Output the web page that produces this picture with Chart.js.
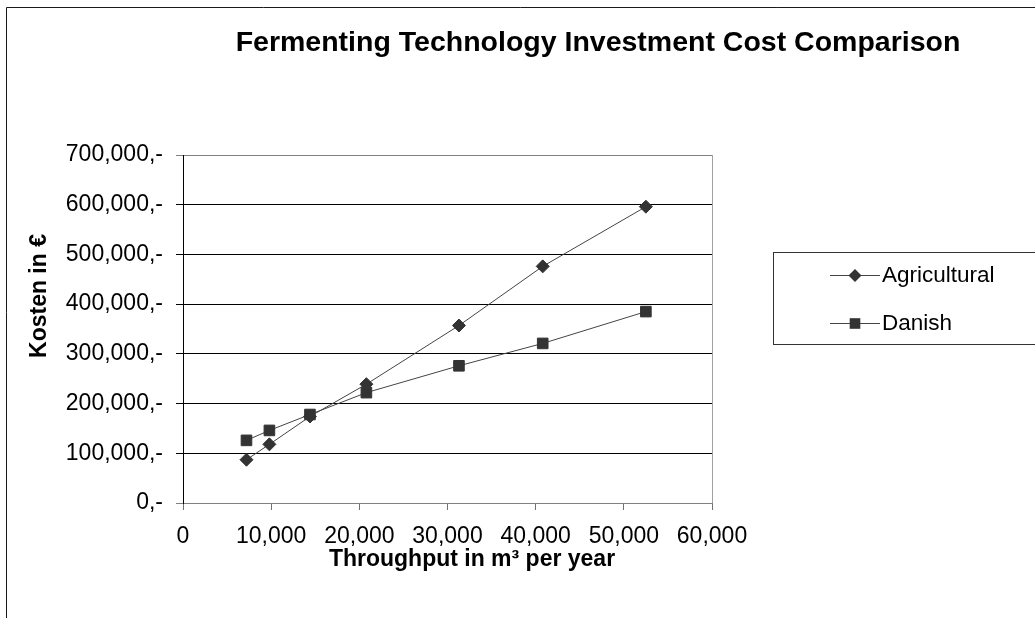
<!DOCTYPE html>
<html>
<head>
<meta charset="utf-8">
<title>Fermenting Technology Investment Cost Comparison</title>
<script src="https://cdn.jsdelivr.net/npm/chart.js@4.4.1/dist/chart.umd.min.js"></script>
<style>
  html, body { margin: 0; padding: 0; background: #fff; }
  #chart { display: block; }
</style>
</head>
<body>
<canvas id="chart" width="1035" height="618"></canvas>
<script>
const FONT = "'Liberation Sans', Arial, sans-serif";

// data
const throughput = [7200, 9800, 14400, 20800, 31300, 40800, 52500];
const agricultural = [87000, 118000, 174000, 239000, 357000, 476000, 596000];
const danish = [126000, 146000, 178000, 222000, 276000, 321000, 385000];
const seriesNames = ['Agricultural', 'Danish'];
const titleText = 'Fermenting Technology Investment Cost Comparison';
const xTitle = 'Throughput in m³ per year';
const yTitle = 'Kosten in €';

function toPoints(xs, ys) {
  return xs.map((x, i) => ({ x: x, y: ys[i] }));
}

// frame, titles, plot border and legend box
const decorations = {
  id: 'decorations',
  afterDraw(chart) {
    const ctx = chart.ctx;
    const area = chart.chartArea;
    ctx.save();

    // outer frame (left + top)
    ctx.strokeStyle = '#1a1a1a';
    ctx.lineWidth = 1;
    ctx.beginPath();
    ctx.moveTo(6.5, chart.height);
    ctx.lineTo(6.5, 7.5);
    ctx.lineTo(chart.width, 7.5);
    ctx.stroke();

    // plot area right edge
    ctx.strokeStyle = '#a0a0a0';
    ctx.beginPath();
    ctx.moveTo(Math.round(area.right) + 0.5, area.top);
    ctx.lineTo(Math.round(area.right) + 0.5, area.bottom);
    ctx.stroke();

    // chart title
    ctx.fillStyle = '#000';
    ctx.font = 'bold 28.5px ' + FONT;
    ctx.textAlign = 'center';
    ctx.textBaseline = 'middle';
    ctx.fillText(titleText, 598, 43);

    // axis titles
    ctx.font = 'bold 23px ' + FONT;
    ctx.fillText(xTitle, 472, 560);
    ctx.save();
    ctx.translate(40, 296);
    ctx.rotate(-Math.PI / 2);
    ctx.fillText(yTitle, 0, 0);
    ctx.restore();

    // legend
    ctx.strokeStyle = '#333';
    ctx.strokeRect(773.5, 252.5, 300, 92);
    const rows = [275, 323];
    chart.data.datasets.forEach((ds, i) => {
      const y = rows[i];
      ctx.strokeStyle = ds.borderColor;
      ctx.lineWidth = 1;
      ctx.beginPath();
      ctx.moveTo(830, y + 0.5);
      ctx.lineTo(880, y + 0.5);
      ctx.stroke();
      ctx.fillStyle = ds.pointBackgroundColor;
      Chart.helpers.drawPoint(ctx, {
        pointStyle: ds.pointStyle,
        radius: ds.pointRadius,
        borderWidth: 0
      }, 855, y + 0.5);
      ctx.fillStyle = '#000';
      ctx.font = '22.5px ' + FONT;
      ctx.textAlign = 'left';
      ctx.textBaseline = 'middle';
      ctx.fillText(ds.label, 882, y + 1);
    });

    ctx.restore();
  }
};

new Chart(document.getElementById('chart'), {
  type: 'scatter',
  data: {
    datasets: [
      {
        label: seriesNames[0],
        data: toPoints(throughput, agricultural),
        showLine: true,
        borderColor: '#444',
        borderWidth: 1,
        pointStyle: 'rectRot',
        pointRadius: 6.5,
        pointBackgroundColor: '#333',
        pointBorderColor: '#333',
        pointBorderWidth: 1,
        tension: 0
      },
      {
        label: seriesNames[1],
        data: toPoints(throughput, danish),
        showLine: true,
        borderColor: '#444',
        borderWidth: 1,
        pointStyle: 'rect',
        pointRadius: 7.5,
        pointBackgroundColor: '#333',
        pointBorderColor: '#333',
        pointBorderWidth: 1,
        tension: 0
      }
    ]
  },
  options: {
    responsive: false,
    animation: false,
    layout: { padding: { top: 155, left: 0, right: 323, bottom: 0 } },
    plugins: {
      legend: { display: false },
      title: { display: false },
      tooltip: { enabled: false }
    },
    scales: {
      x: {
        type: 'linear',
        min: 0,
        max: 60000,
        afterFit: (scale) => { scale.height = 115; },
        ticks: {
          stepSize: 10000,
          color: '#000',
          padding: 13,
          font: { family: FONT, size: 23 },
          maxRotation: 0,
          callback: (v) => v.toLocaleString('en-US')
        },
        grid: {
          drawOnChartArea: false,
          drawTicks: true,
          tickLength: 7,
          color: '#707070'
        },
        border: { color: '#808080' }
      },
      y: {
        min: 0,
        max: 700000,
        afterFit: (scale) => { scale.width = 183; },
        ticks: {
          stepSize: 100000,
          color: '#000',
          padding: 13,
          font: { family: FONT, size: 23 },
          callback: (v) => v.toLocaleString('en-US') + ',-'
        },
        grid: {
          tickLength: 7,
          color: (c) => (c.tick && (c.tick.value === 0 || c.tick.value === 700000)) ? '#808080' : '#000'
        },
        border: { color: '#000' }
      }
    }
  },
  plugins: [decorations]
});
</script>
</body>
</html>
